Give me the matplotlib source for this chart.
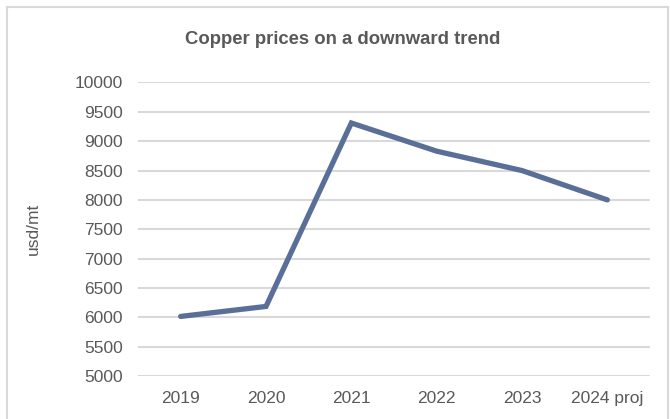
import matplotlib
matplotlib.use("Agg")
import matplotlib.pyplot as plt
from matplotlib.patches import Rectangle

# data
years = ["2019", "2020", "2021", "2022", "2023", "2024 proj"]
prices = [6015, 6185, 9310, 8830, 8500, 8000]
y_ticks = list(range(5000, 10001, 500))

TEXT = "#595959"
GRID = "#D9D9D9"
LINE = "#5A6F98"

plt.rcParams["font.family"] = ["Liberation Sans", "DejaVu Sans"]

fig = plt.figure(figsize=(6.7, 4.19), dpi=100)
ax = fig.add_axes([138 / 670, 43 / 419, 512 / 670, 293.5 / 419])

x = list(range(len(years)))
ax.plot(x, prices, color=LINE, linewidth=3.8, solid_capstyle="round",
        solid_joinstyle="miter", zorder=3)

ax.set_xlim(-0.5, len(years) - 0.5)
ax.set_ylim(5000, 10000)
ax.set_yticks(y_ticks)
ax.set_xticks(x)
ax.set_xticklabels(years)

ax.grid(axis="y", color=GRID, linewidth=1.5, zorder=0)
for s in ax.spines.values():
    s.set_visible(False)
ax.tick_params(axis="both", length=0, labelsize=12.5, labelcolor=TEXT)
ax.tick_params(axis="y", pad=11)
ax.tick_params(axis="x", pad=11)

fig.text(343 / 670, 1 - 40 / 419, "Copper prices on a downward trend",
         ha="center", va="center", fontsize=13.3, fontweight="bold", color=TEXT)
fig.text(33 / 670, 1 - 229 / 419, "usd/mt", rotation=90, ha="center",
         va="center", fontsize=12.5, color=TEXT)

# chart frame (only top/left/right edges visible in the crop)
fig.patches.append(Rectangle((7 / 670, -0.05), 661 / 670, 1.05 - 7 / 419,
                             transform=fig.transFigure, fill=False,
                             edgecolor=GRID, linewidth=1.5))

fig.savefig("out.png", dpi=100)
